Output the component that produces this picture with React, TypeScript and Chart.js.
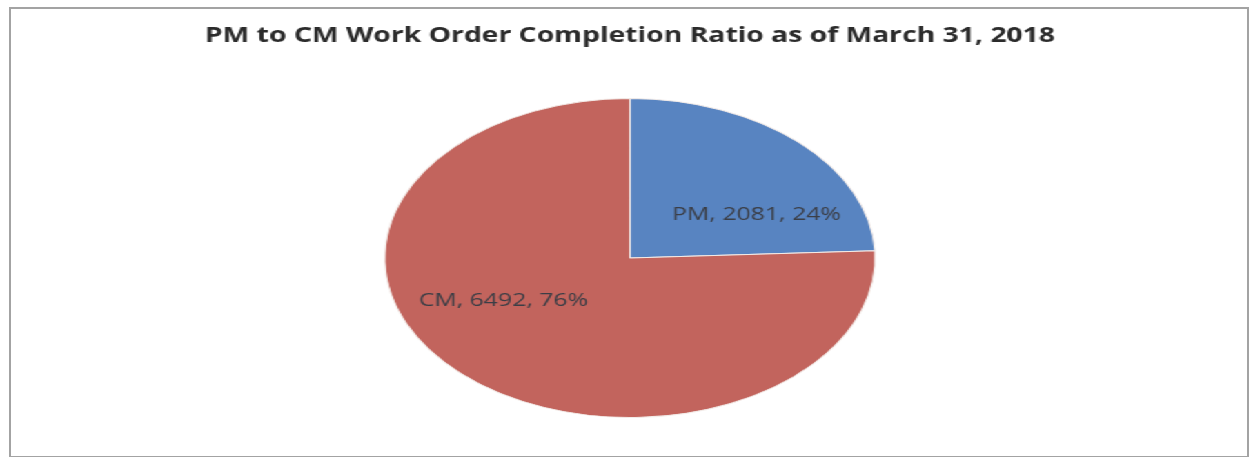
import React, { useEffect, useRef } from "react";
import { Chart, registerables } from "chart.js";

Chart.register(...registerables);

const categories = ["PM", "CM"];
const values = [2081, 6492];
const sliceColors = ["#5884c1", "#c2645d"];
const titleText = "PM to CM Work Order Completion Ratio as of March 31, 2018";

const TEXT_STRETCH = 1.38;
const PIE_STRETCH = 1.114;
const CANVAS_W = 910;
const CANVAS_H = 457;

export default function App() {
  const ref = useRef<HTMLCanvasElement>(null);

  useEffect(() => {
    const canvas = ref.current;
    if (!canvas) return;
    let chart: Chart | null = null;
    let cancelled = false;
    const total = values.reduce((a, b) => a + b, 0);

    const ellipsePlugin = {
      id: "ellipsePie",
      beforeDatasetsDraw(c: any) {
        const arc = c.getDatasetMeta(0).data[0];
        const ctx = c.ctx;
        ctx.save();
        ctx.translate(arc.x, arc.y);
        ctx.scale(PIE_STRETCH, 1);
        ctx.translate(-arc.x, -arc.y);
      },
      afterDatasetsDraw(c: any) {
        const ctx = c.ctx;
        ctx.restore();
        const meta = c.getDatasetMeta(0);
        ctx.save();
        ctx.font = '18px "Open Sans"';
        ctx.fillStyle = "#3b3e46";
        ctx.textAlign = "center";
        ctx.textBaseline = "middle";
        meta.data.forEach((arc: any, i: number) => {
          const { x, y, startAngle, endAngle, outerRadius } = arc.getProps(
            ["x", "y", "startAngle", "endAngle", "outerRadius"],
            true
          );
          const mid = (startAngle + endAngle) / 2;
          const lx = x + outerRadius * PIE_STRETCH * 0.747 * Math.cos(mid);
          const ly = y + outerRadius * 0.376 * Math.sin(mid);
          const pct = Math.round((values[i] / total) * 100);
          ctx.fillText(`${categories[i]}, ${values[i]}, ${pct}%`, lx, ly);
        });
        ctx.restore();
      },
    };

    const create = () => {
      if (cancelled) return;
      chart = new Chart(canvas, {
        type: "pie",
        data: {
          labels: categories,
          datasets: [
            {
              data: values,
              backgroundColor: sliceColors,
              borderColor: "#f3ece9",
              borderWidth: 1,
            },
          ],
        },
        options: {
          responsive: false,
          maintainAspectRatio: false,
          animation: false,
          devicePixelRatio: 1,
          layout: { padding: { top: 0, bottom: 39, left: 3, right: 0 } },
          plugins: {
            legend: { display: false },
            tooltip: { enabled: false },
            title: {
              display: true,
              text: titleText,
              color: "#2b2b2b",
              font: { family: '"Open Sans"', size: 20.5, weight: "bold", lineHeight: 1.2 },
              padding: { top: 24, bottom: 49.4 },
            },
          },
        },
        plugins: [ellipsePlugin],
      });
    };

    Promise.all([
      document.fonts.load('bold 21px "Open Sans"'),
      document.fonts.load('18px "Open Sans"'),
    ])
      .catch(() => null)
      .then(create);

    return () => {
      cancelled = true;
      if (chart) chart.destroy();
    };
  }, []);

  return (
    <>
      <div
        style={{
          position: "absolute",
          left: 0,
          top: 0,
          width: CANVAS_W,
          height: CANVAS_H,
          transform: `scaleX(${TEXT_STRETCH})`,
          transformOrigin: "0 0",
          background: "#ffffff",
        }}
      >
        <canvas
          ref={ref}
          width={CANVAS_W}
          height={CANVAS_H}
          style={{ display: "block", width: CANVAS_W, height: CANVAS_H }}
        />
      </div>
      <div
        style={{
          position: "absolute",
          left: 9,
          top: 7,
          width: 1240,
          height: 451,
          boxSizing: "border-box",
          border: "2px solid #a3a3a3",
          pointerEvents: "none",
        }}
      />
    </>
  );
}
